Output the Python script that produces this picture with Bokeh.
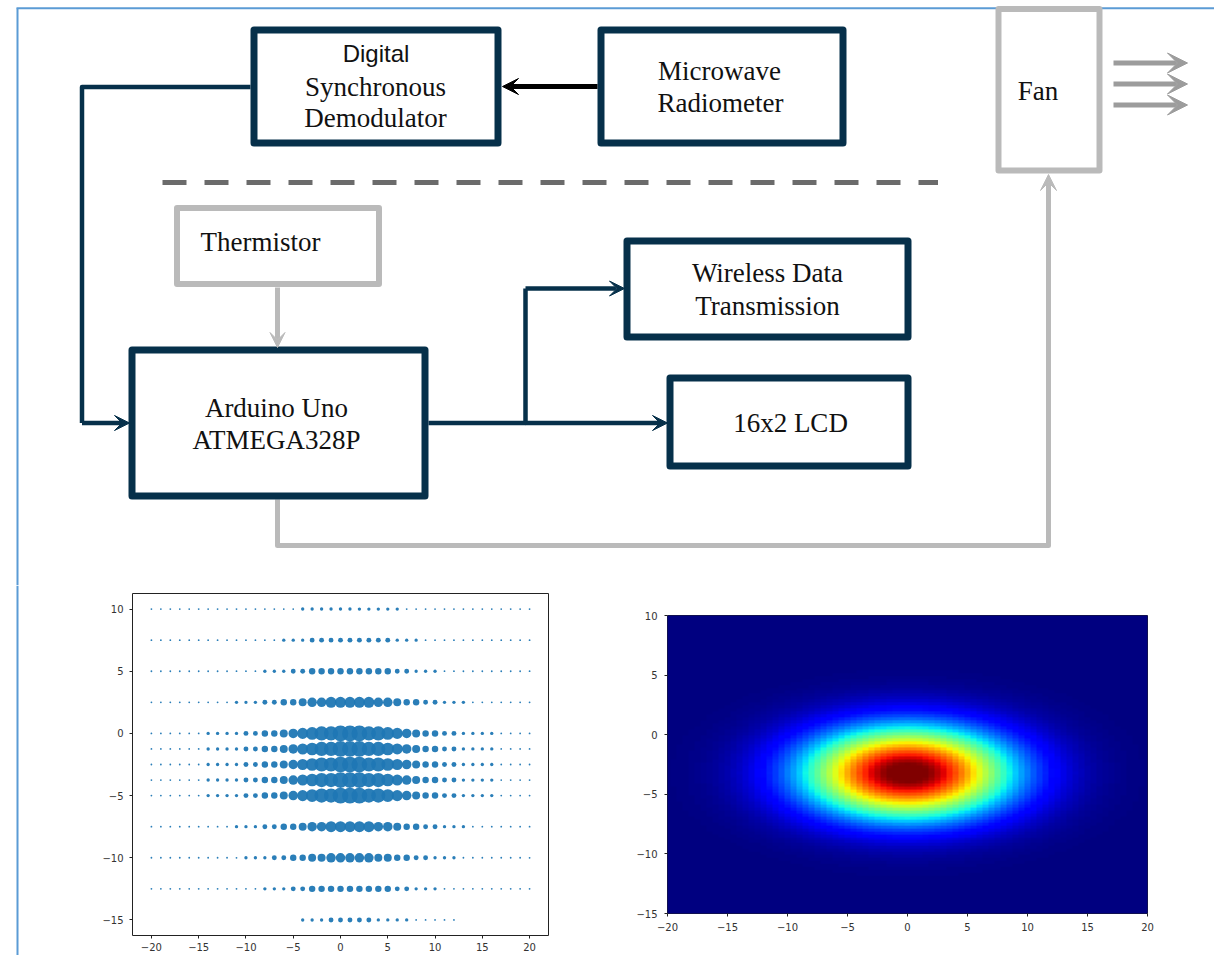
import numpy as np
from bokeh.plotting import figure
from bokeh.models import Range1d, Arrow, VeeHead, LinearColorMapper, FixedTicker, Spacer
from bokeh.layouts import column, row
from bokeh.embed import file_html
from bokeh.resources import INLINE
from bokeh.core.properties import value

# ---------------- data ----------------
serif_labels = ["Synchronous", "Demodulator", "Microwave", "Radiometer", "Fan", "Thermistor",
                "Arduino Uno", "ATMEGA328P", "Wireless Data", "Transmission", "16x2 LCD"]
sans_labels = ["Digital"]

# bubble scatter: grid columns, grid rows and bubble level (0-9, '-' = no point) per row
scatter_x = list(range(-20, 21))
scatter_rows_y = [10, 7.5, 5, 2.5, 0, -1.25, -2.5, -3.75, -5, -7.5, -10, -12.5, -15]
scatter_levels = [
    "0000000000000000 11111111111 00000000000000",
    "00000000000000 111 222222222 111 000000000000",
    "000000000000 111 22 333333333 22 111 0000000000",
    "000000000 111 22 33 4 55 66666 55 4 33 22 111 0000000",
    "000000 1111 22 33 4567 88 999 88 7654 33 22 1111 0000",
    "000000 1111 22 33 4567 88 999 88 7654 33 22 1111 0000",
    "000000 1111 22 33 4567 88 999 88 7654 33 22 1111 0000",
    "000000 1111 22 33 4567 88 999 88 7654 33 22 1111 0000",
    "000000 1111 22 33 4567 88 999 88 7654 33 22 1111 0000",
    "000000000 111 22 33 4 55 66666 55 4 33 22 111 0000000",
    "0000000000 111 22 33 44 55555 44 33 22 111 00000000",
    "000000000000 111 22 333333333 22 111 0000000000",
    "---------------- 111 22222 1111 00000 --------",
]
scatter_xticks = [-20, -15, -10, -5, 0, 5, 10, 15, 20]
scatter_yticks = [-15, -10, -5, 0, 5, 10]

# heat map: intensity read along the row through the peak (x = -20 .. 20, step 0.5)
heat_x_step = 0.5
heat_x_profile = [
    0.0032, 0.0042, 0.0056, 0.0073, 0.0095, 0.012, 0.016, 0.020, 0.025, 0.032,
    0.039, 0.049, 0.060, 0.073, 0.088, 0.106, 0.126, 0.150, 0.176, 0.205,
    0.238, 0.273, 0.312, 0.354, 0.399, 0.446, 0.495, 0.545, 0.596, 0.648,
    0.698, 0.748, 0.795, 0.839, 0.879, 0.914, 0.944, 0.968, 0.986, 0.996,
    1.000,
    0.996, 0.986, 0.968, 0.944, 0.914, 0.879, 0.839, 0.795, 0.748, 0.698,
    0.648, 0.596, 0.545, 0.495, 0.446, 0.399, 0.354, 0.312, 0.273, 0.238,
    0.205, 0.176, 0.150, 0.126, 0.106, 0.088, 0.073, 0.060, 0.049, 0.039,
    0.032, 0.025, 0.020, 0.016, 0.012, 0.0095, 0.0073, 0.0056, 0.0042, 0.0032]
heat_x_start = -20.0
# ... and along the column through the peak (y = -15 .. 10, step 0.25)
heat_y_step = 0.25
heat_y_profile = [
    0.0, 0.0, 0.0, 0.0001, 0.0002, 0.0003, 0.0004, 0.0006, 0.0009, 0.0013,
    0.0018, 0.0025, 0.0035, 0.0048, 0.0065, 0.0088, 0.0118, 0.0156, 0.0205, 0.0267,
    0.0344, 0.0439, 0.0556, 0.0698, 0.0867, 0.107, 0.130, 0.157, 0.188, 0.224,
    0.263, 0.306, 0.353, 0.404, 0.458, 0.514, 0.572, 0.630, 0.688, 0.744,
    0.797, 0.847, 0.891, 0.929, 0.959, 0.982, 0.995, 1.000,
    0.995, 0.982, 0.959, 0.929, 0.891, 0.847, 0.797, 0.744, 0.688, 0.630,
    0.572, 0.514, 0.458, 0.404, 0.353, 0.306, 0.263, 0.224, 0.188, 0.157,
    0.130, 0.107, 0.0867, 0.0698, 0.0556, 0.0439, 0.0344, 0.0267, 0.0205, 0.0156,
    0.0118, 0.0088, 0.0065, 0.0048, 0.0035, 0.0025, 0.0018, 0.0013, 0.0009, 0.0006,
    0.0004, 0.0003, 0.0002, 0.0001, 0.0, 0.0, 0.0, 0.0, 0.0, 0.0,
    0.0, 0.0, 0.0]
heat_y_start = -15.0
heat_color_high = 0.96
heat_xticks = [-20, -15, -10, -5, 0, 5, 10, 15, 20]
heat_yticks = [-15, -10, -5, 0, 5, 10]

# ---------------- styles ----------------
NAVY = "#06304a"
GREY = "#bababa"
FANARROW = "#9c9c9c"
DASH = "#6b6b6b"
FRAME = "#5b9bd5"
SERIF = value("Liberation Serif")
SANS = value("Liberation Sans")


def jet_palette(n=256):
    v = np.linspace(0, 1, n)
    r = np.interp(v, [0, 0.35, 0.66, 0.89, 1], [0, 0, 1, 1, 0.5])
    g = np.interp(v, [0, 0.125, 0.375, 0.64, 0.91, 1], [0, 0, 1, 1, 0, 0])
    b = np.interp(v, [0, 0.11, 0.34, 0.65, 1], [0.5, 1, 1, 0, 0])
    return ["#%02x%02x%02x" % (int(round(a * 255)), int(round(c * 255)), int(round(d * 255)))
            for a, c, d in zip(r, g, b)]


# ---------------- block diagram ----------------
top = figure(width=1214, height=585, x_range=Range1d(0, 1214), y_range=Range1d(585, 0),
             x_axis_type=None, y_axis_type=None, output_backend="svg",
             toolbar_location=None, min_border=0, frame_align=False)
top.grid.visible = False
top.outline_line_color = None
top.background_fill_color = "white"

# page frame
top.line([16, 1214], [7.7, 7.7], line_color=FRAME, line_width=2)
top.line([17, 17], [7.7, 585], line_color=FRAME, line_width=2)

# connectors (drawn first, boxes on top)
top.line([250, 81.5, 81.5], [86.5, 86.5, 422.5], line_color=NAVY, line_width=4.5, line_join="round")
top.add_layout(Arrow(end=VeeHead(size=15, fill_color=NAVY, line_color=NAVY, line_width=1),
                     x_start=81.5, y_start=422.5, x_end=129, y_end=422.5,
                     line_color=NAVY, line_width=4.5))
top.line([428, 525, 525], [422.5, 422.5, 288], line_color=NAVY, line_width=4.5, line_join="round")
top.add_layout(Arrow(end=VeeHead(size=15, fill_color=NAVY, line_color=NAVY, line_width=1),
                     x_start=525, y_start=422.5, x_end=667, y_end=422.5,
                     line_color=NAVY, line_width=4.5))
top.add_layout(Arrow(end=VeeHead(size=15, fill_color=NAVY, line_color=NAVY, line_width=1),
                     x_start=525, y_start=288, x_end=624, y_end=288,
                     line_color=NAVY, line_width=4.5))
top.add_layout(Arrow(end=VeeHead(size=16, fill_color="black", line_color="black", line_width=1),
                     x_start=597, y_start=86, x_end=502, y_end=86,
                     line_color="black", line_width=5))
top.add_layout(Arrow(end=VeeHead(size=15, fill_color=GREY, line_color=GREY, line_width=1),
                     x_start=277, y_start=287, x_end=277, y_end=347,
                     line_color=GREY, line_width=5))
top.line([277, 277, 1048, 1048], [499, 545, 545, 200], line_color=GREY, line_width=5, line_join="round")
top.add_layout(Arrow(end=VeeHead(size=16, fill_color=GREY, line_color=GREY, line_width=1),
                     x_start=1048, y_start=210, x_end=1048, y_end=174,
                     line_color=GREY, line_width=5))
for fy in [62.5, 83.5, 104.5]:
    top.add_layout(Arrow(end=VeeHead(size=20, fill_color=FANARROW, line_color=FANARROW, line_width=1),
                         x_start=1113, y_start=fy, x_end=1187, y_end=fy,
                         line_color=FANARROW, line_width=5))
top.line([162, 937.5], [182, 182], line_color=DASH, line_width=5, line_dash="24 18")

# boxes: left, right, top, bottom (stroke centre lines)
boxes_navy = dict(left=[253.5, 600.5, 131.5, 626.5, 669.5],
                  right=[497.5, 842.5, 424.5, 907.5, 907.5],
                  top=[29.5, 29.5, 349.5, 240.5, 377.5],
                  bottom=[142.5, 142.5, 495.5, 336.5, 465.5])
top.quad(**boxes_navy, fill_color="white", line_color=NAVY, line_width=7, line_join="round")
boxes_grey = dict(left=[998, 176.5], right=[1099, 378.5], top=[8.5, 207.5], bottom=[170, 283.5])
top.quad(**boxes_grey, fill_color="white", line_color=GREY, line_width=6, line_join="round")

# texts
top.text(x=[375, 375, 719, 720, 1037.5, 260, 276, 276, 767, 767, 790],
         y=[86, 117.5, 70.5, 102, 90, 241.5, 407, 439, 272.5, 305, 422],
         text=serif_labels, text_font=SERIF, text_font_size="27px",
         text_align="center", text_baseline="alphabetic", text_color="#111111")
top.text(x=[375.5], y=[53], text=sans_labels, text_font=SANS, text_font_size="24px",
         text_align="center", text_baseline="alphabetic", text_color="#111111")

# ---------------- left strip with page frame ----------------
strip = figure(width=90, height=370, x_range=Range1d(0, 90), y_range=Range1d(955, 585),
               x_axis_type=None, y_axis_type=None, output_backend="svg",
               toolbar_location=None, min_border=0, frame_align=False)
strip.grid.visible = False
strip.outline_line_color = None
strip.line([17, 17], [585, 955], line_color=FRAME, line_width=2)


def style_axes(p, xt, yt, xstand, ystand):
    p.grid.visible = False
    p.outline_line_color = "#222222"
    p.outline_line_width = 1
    p.xaxis.ticker = FixedTicker(ticks=xt)
    p.yaxis.ticker = FixedTicker(ticks=yt)
    p.xaxis.major_label_overrides = {t: str(t).replace("-", "\u2212") for t in xt}
    p.yaxis.major_label_overrides = {t: str(t).replace("-", "\u2212") for t in yt}
    for ax, st in ((p.xaxis[0], xstand), (p.yaxis[0], ystand)):
        ax.axis_line_color = None
        ax.major_tick_out = 3
        ax.major_tick_in = 0
        ax.minor_tick_line_color = None
        ax.major_tick_line_color = "#222222"
        ax.major_label_text_font = "DejaVu Sans"
        ax.major_label_text_font_size = "10px"
        ax.major_label_text_color = "#333333"
        ax.major_label_standoff = st


# ---------------- bubble scatter ----------------
sc = figure(width=470, height=370, x_range=Range1d(-22, 22), y_range=Range1d(-16.25, 11.25),
            output_backend="svg", toolbar_location=None, frame_align=False,
            min_border_left=42, min_border_right=12, min_border_top=8, min_border_bottom=20)
style_axes(sc, scatter_xticks, scatter_yticks, 4, 6)
px, py, ps = [], [], []
for yv, lev in zip(scatter_rows_y, scatter_levels):
    s = lev.replace(" ", "")
    assert len(s) == len(scatter_x), (yv, len(s))
    for xv, ch in zip(scatter_x, s):
        if ch == "-":
            continue
        px.append(xv)
        py.append(yv)
        ps.append(1.8 + 1.55 * int(ch))
sc.scatter(px, py, size=ps, marker="circle", fill_color="#1f77b4", line_color=None, fill_alpha=0.95)

# ---------------- heat map ----------------
hm = figure(width=610, height=370, x_range=Range1d(-20, 20), y_range=Range1d(-15, 10),
            output_backend="svg", toolbar_location=None, frame_align=False,
            min_border_left=107, min_border_right=23, min_border_top=30, min_border_bottom=42)
style_axes(hm, heat_xticks, heat_yticks, 6, 7)
assert len(heat_x_profile) == 81 and len(heat_y_profile) == 101
z = np.outer(np.array(heat_y_profile), np.array(heat_x_profile))
mapper = LinearColorMapper(palette=jet_palette(), low=0, high=heat_color_high)
hm.image(image=[z],
         x=heat_x_start - heat_x_step / 2, y=heat_y_start - heat_y_step / 2,
         dw=len(heat_x_profile) * heat_x_step, dh=len(heat_y_profile) * heat_y_step,
         color_mapper=mapper)

layout = column(top, row(strip, sc, hm, Spacer(width=44, height=370)))
open("out.html", "w").write(file_html(layout, INLINE))
